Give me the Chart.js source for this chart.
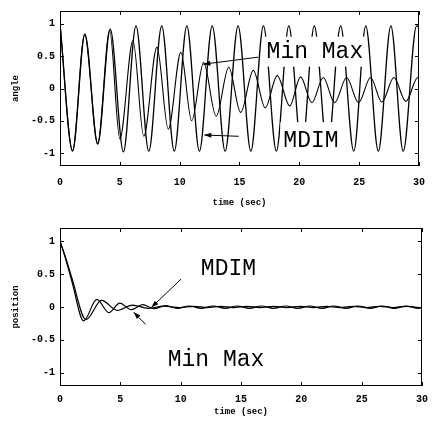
<!DOCTYPE html>
<html>
<head>
<meta charset="utf-8">
<script src="https://cdn.jsdelivr.net/npm/chart.js@4.4.1/dist/chart.umd.min.js"></script>
<style>
html, body { margin: 0; padding: 0; background: #fff; }
#wrap { position: relative; width: 435px; height: 423px; }
canvas { position: absolute; left: 0; }
#top { top: 0; }
#bottom { top: 212px; }
</style>
</head>
<body>
<div id="wrap">
  <canvas id="top" width="435" height="212" style="width:435px;height:212px"></canvas>
  <canvas id="bottom" width="435" height="211" style="width:435px;height:211px"></canvas>
</div>
<script>
// ─── DATA (extrema) ─────────────────────────────────────────────────────────
var xTicks = [0, 5, 10, 15, 20, 25, 30];
var yTicks = [-1, -0.5, 0, 0.5, 1];

// upper plot: angle
var angleMdimT = [0, 1.05, 2.08, 3.15, 4.2, 5.3, 6.35, 7.42, 8.5, 9.55, 10.6, 11.65, 12.72, 13.8,
                  14.88, 15.95, 17.0, 18.08, 19.12, 20.2, 21.25, 22.35, 23.45, 24.55, 25.55, 26.6,
                  27.65, 28.68, 29.8, 30];
var angleMdimV = [1.0, -0.97, 0.84, -0.86, 0.92, -0.98, 0.97, -0.97, 0.97, -0.97, 0.97, -0.97, 0.97, -0.97,
                  0.97, -0.97, 0.97, -0.97, 0.97, -0.97, 0.97, -0.97, 0.97, -0.97, 0.97, -0.97,
                  0.97, -0.97, 0.97, 0.95];

var angleMinMaxT = [0, 1.05, 2.06, 3.15, 4.15, 5.0, 6.1, 7.0, 8.1, 9.05, 10.1, 11.0, 12.0, 13.05,
                    14.1, 15.1, 16.15, 17.15, 18.15, 19.2, 20.1, 21.05, 22.0, 22.95, 23.95, 24.95,
                    25.95, 26.9, 27.9, 28.9, 29.9, 30];
var angleMinMaxV = [1.0, -0.96, 0.84, -0.85, 0.9, -0.78, 0.74, -0.74, 0.64, -0.63, 0.56, -0.5, 0.4, -0.43,
                    0.33, -0.37, 0.28, -0.3, 0.2, -0.27, 0.18, -0.22, 0.17, -0.22, 0.17, -0.22,
                    0.17, -0.21, 0.17, -0.2, 0.17, 0.16];

// lower plot: position
var posMdimT = [0, 0.5, 1.0, 1.96, 3.05, 4.05, 4.95, 5.9, 6.85, 7.8, 8.75, 9.7, 10.7, 11.7, 12.7,
                13.7, 14.7, 15.7, 16.7, 17.7, 18.7, 19.7, 20.7, 21.7, 22.7, 23.7, 24.7, 25.7,
                26.7, 27.7, 28.7, 29.7, 30];
var posMdimV = [1.0, 0.71, 0.38, -0.21, 0.115, -0.085, 0.06, -0.04, 0.035, -0.025, 0.02, -0.02, 0.015, -0.02, 0.015,
                -0.02, 0.015, -0.02, 0.015, -0.02, 0.015, -0.02, 0.015, -0.02, 0.015, -0.02, 0.015, -0.02,
                0.015, -0.02, 0.015, -0.02, -0.01];

var posMinMaxT = [0, 0.5, 1.0, 2.15, 3.45, 4.75, 6.0, 7.3, 8.6, 9.9, 11.1, 12.2, 13.3, 14.4, 15.5,
                  16.6, 17.7, 18.8, 19.9, 21.0, 22.1, 23.2, 24.3, 25.4, 26.5, 27.6, 28.7, 29.8, 30];
var posMinMaxV = [1.0, 0.73, 0.43, -0.19, 0.1, -0.05, 0.03, -0.02, 0.012, -0.01, 0.01, -0.008, 0.01, -0.008, 0.01,
                  -0.008, 0.01, -0.008, 0.01, -0.008, 0.01, -0.008, 0.01, -0.008, 0.01, -0.008, 0.01, -0.008, 0.0];

// labels and arrows, in data units
var topLabels = [
    { text: 'Min Max', t: 21.3, v: 0.57, box: 15 },
    { text: 'MDIM', t: 20.97, v: -0.815, box: 19 }
];
var topArrows = [
    { fromT: 16.56, fromV: 0.485, toT: 11.98, toV: 0.376 },
    { fromT: 14.93, fromV: -0.74, toT: 12.06, toV: -0.72 }
];
var bottomLabels = [
    { text: 'MDIM', t: 13.96, v: 0.583, box: 0 },
    { text: 'Min Max', t: 12.93, v: -0.81, box: 0 }
];
var bottomArrows = [
    { fromT: 10.03, fromV: 0.423, toT: 7.58, toV: -0.005 },
    { fromT: 7.09, fromV: -0.264, toT: 6.11, toV: -0.08 }
];

function zip(ts, vs) {
    var out = [];
    for (var i = 0; i < ts.length; i++) {
        out.push({ x: ts[i], y: vs[i] });
    }
    return out;
}

var MONO = "'Liberation Mono', 'Courier New', monospace";

// ─── PLUGIN: labels, arrows, box and inward ticks ──────────────────────────
var decorPlugin = {
    id: 'decor',
    afterDatasetsDraw: function (chart, args, opts) {
        var ctx = chart.ctx;
        var a = chart.chartArea;
        var xs = chart.scales.x, ys = chart.scales.y;
        ctx.save();
        ctx.font = '23px ' + MONO;
        ctx.textAlign = 'center';
        ctx.textBaseline = 'middle';
        (opts.labels || []).forEach(function (l) {
            var px = xs.getPixelForValue(l.t), py = ys.getPixelForValue(l.v);
            var w = ctx.measureText(l.text).width;
            if (l.box) {
                ctx.fillStyle = '#fff';
                ctx.fillRect(px - w / 2 - 3, py - l.box, w + 6, l.box * 2);
            }
            ctx.fillStyle = '#000';
            ctx.fillText(l.text, px, py);
        });
        ctx.strokeStyle = '#000';
        ctx.fillStyle = '#000';
        ctx.lineWidth = 1;
        (opts.arrows || []).forEach(function (r) {
            var x0 = xs.getPixelForValue(r.fromT), y0 = ys.getPixelForValue(r.fromV);
            var x1 = xs.getPixelForValue(r.toT), y1 = ys.getPixelForValue(r.toV);
            var ang = Math.atan2(y1 - y0, x1 - x0);
            ctx.beginPath();
            ctx.moveTo(x0, y0);
            ctx.lineTo(x1, y1);
            ctx.stroke();
            ctx.beginPath();
            ctx.moveTo(x1, y1);
            ctx.lineTo(x1 - 7 * Math.cos(ang) + 2.5 * Math.sin(ang), y1 - 7 * Math.sin(ang) - 2.5 * Math.cos(ang));
            ctx.lineTo(x1 - 7 * Math.cos(ang) - 2.5 * Math.sin(ang), y1 - 7 * Math.sin(ang) + 2.5 * Math.cos(ang));
            ctx.closePath();
            ctx.fill();
        });
        // frame
        ctx.strokeRect(Math.round(a.left) + 0.5, Math.round(a.top) + 0.5,
            Math.round(a.right - a.left) - 1, Math.round(a.bottom - a.top) - 1);
        // inward ticks on all four sides
        ctx.beginPath();
        xTicks.forEach(function (v) {
            var px = Math.round(xs.getPixelForValue(v)) + 0.5;
            ctx.moveTo(px, a.bottom); ctx.lineTo(px, a.bottom - 4);
            ctx.moveTo(px, a.top); ctx.lineTo(px, a.top + 4);
        });
        yTicks.forEach(function (v) {
            var py = Math.round(ys.getPixelForValue(v)) + 0.5;
            ctx.moveTo(a.left, py); ctx.lineTo(a.left + 4, py);
            ctx.moveTo(a.right, py); ctx.lineTo(a.right - 4, py);
        });
        ctx.stroke();
        ctx.restore();
    }
};

function makeOptions(yTitle, padTop, xAxisHeight, xTickPad, xTitlePad, labels, arrows) {
    return {
        responsive: false,
        animation: false,
        layout: { padding: { top: padTop, right: 8, left: 0, bottom: 0 } },
        plugins: {
            legend: { display: false },
            tooltip: { enabled: false },
            decor: { labels: labels, arrows: arrows }
        },
        elements: {
            point: { radius: 0 },
            line: { borderColor: '#000', cubicInterpolationMode: 'monotone', fill: false }
        },
        scales: {
            x: {
                type: 'linear', min: 0, max: 30,
                afterBuildTicks: function (s) { s.ticks = xTicks.map(function (v) { return { value: v }; }); },
                afterFit: function (s) { s.height = xAxisHeight; },
                grid: { display: false, drawTicks: false },
                border: { display: false },
                ticks: { padding: xTickPad, color: '#000', maxRotation: 0, font: { family: MONO, size: 10, weight: 'bold' } },
                title: { display: true, text: 'time (sec)', color: '#000', padding: { top: 0, bottom: xTitlePad },
                         font: { family: MONO, size: 9, weight: 'bold' } }
            },
            y: {
                min: -1.2, max: 1.2,
                afterBuildTicks: function (s) { s.ticks = yTicks.map(function (v) { return { value: v }; }); },
                afterFit: function (s) { s.width = 60; },
                grid: { display: false, drawTicks: false },
                border: { display: false },
                ticks: { padding: 5, color: '#000', font: { family: MONO, size: 10, weight: 'bold' },
                         callback: function (v) { return String(v); } },
                title: { display: true, text: yTitle, color: '#000', padding: { top: 10, bottom: 0 },
                         font: { family: MONO, size: 9, weight: 'bold' } }
            }
        }
    };
}

// ─── CHARTS ─────────────────────────────────────────────────────────────────
var topChart = new Chart(document.getElementById('top').getContext('2d'), {
    type: 'line',
    data: {
        datasets: [
            { label: 'MDIM', data: zip(angleMdimT, angleMdimV), borderWidth: 1.3 },
            { label: 'Min Max', data: zip(angleMinMaxT, angleMinMaxV), borderWidth: 1.1 }
        ]
    },
    options: makeOptions('angle', 10, 46, 10, 4, topLabels, topArrows),
    plugins: [decorPlugin]
});

var bottomChart = new Chart(document.getElementById('bottom').getContext('2d'), {
    type: 'line',
    data: {
        datasets: [
            { label: 'MDIM', data: zip(posMdimT, posMdimV), borderWidth: 1.2 },
            { label: 'Min Max', data: zip(posMinMaxT, posMinMaxV), borderWidth: 1.2 }
        ]
    },
    options: makeOptions('position', 16, 37, 7, 6, bottomLabels, bottomArrows),
    plugins: [decorPlugin]
});
</script>
</body>
</html>
